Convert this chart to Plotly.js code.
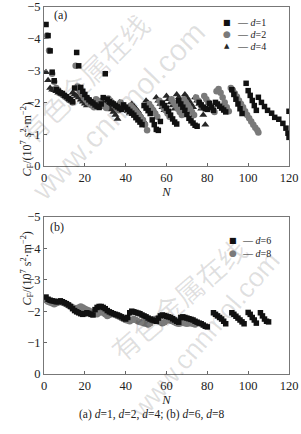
<!DOCTYPE html>
<html><head><meta charset="utf-8">
<script src="https://cdn.plot.ly/plotly-3.0.1.min.js"></script>
<style>html,body{margin:0;padding:0;background:#fff}#c{width:301px;height:434px}</style>
</head><body><div id="c"></div>
<script>
// Panel (a): d=1, d=2, d=4
const d1N = [1,2,3,4,5,6,7,8,9,10,11,12,13,14,15,16,17,18,19,20,21,22,23,24,25,26,27,28,29,30,31,32,33,34,35,36,37,38,39,40,41,42,43,44,45,46,47,48,49,50,51,52,53,54,55,56,57,58,59,60,61,62,63,64,65,66,67,68,69,70,71,72,73,74,75,76,77,78,79,80,81,82,83,84,85,86,87,88,89,
  92,93,94,95,96,97,
  99,100,101,102,103,104,
  105,106.5,108,109.5,111.5,113,115,117,118.5,119.5,120];
const d1C = [-4.45,-4.1,-3.62,-2.95,-2.68,-2.4,-2.35,-2.3,-2.28,-2.22,-2.18,-2.12,-2.08,-2.02,-2.45,-3.57,-3.15,-2.47,-2.35,-2.25,-2.15,-2.08,-2.02,-1.98,-1.92,-1.88,-1.84,-1.95,-2.15,-2.9,-2.1,-2.02,-1.98,-1.95,-1.9,-1.86,-1.82,-1.78,-1.92,-1.85,-1.78,-1.72,-1.66,-1.6,-1.52,-1.45,-1.38,-1.3,-1.9,-1.82,-1.74,-1.65,-1.45,-1.3,-1.15,-1.12,-1.4,-1.98,-1.9,-1.82,-1.72,-1.6,-1.48,-1.38,-1.32,-2.05,-1.95,-1.85,-1.75,-1.62,-1.5,-1.42,-1.35,-1.28,-1.25,-2.0,-1.92,-1.85,-1.8,-1.78,-1.97,-1.85,-1.75,-2.0,-1.95,-1.88,-1.82,-1.76,-1.7,
  -2.4,-2.25,-2.1,-1.95,-1.8,-1.65,
  -2.6,-2.37,-2.22,-2.06,-1.9,-1.75,
  -2.16,-2.0,-1.87,-1.75,-1.66,-1.53,-1.47,-1.34,-1.19,-1.03,-0.9];
const d1xN = [120];
const d1xC = [-1.72];
const d2N = [1.5,2.5,4,5,6,7,8,9,10,11,12,13,14,15.5,16.5,17.5,18.5,19.5,20.5,21.5,22.5,23.5,24.5,25.5,26.5,27.5,28.5,29.5,30.5,31.5,32.5,33.5,34.5,35.5,36.5,37.5,38.5,39.5,40.5,41.5,42.5,43.5,44.5,45.5,46.5,47.5,48.5,49.5,50.5,51.5,52.5,53.5,54.5,55.5,56.5,57.5,58.5,59.5,60.5,61.5,62.5,63.5,64.5,65.5,66.5,67.5,68.5,69.5,70.5,71.5,72.5,73.5,74.5,75.5,76.5,77.5,78.5,79.5,80.5,81.5,82.5,83.5,84.5,85.5,86.5,87.5,88.5,89.5,90.5,91.5,92.5,93.5,94.5,95.5,96.5,97.5,98.5,99.5,100.5,101.5,102.5,103.5,104.5,105];
const d2C = [-4.1,-3.63,-2.9,-2.65,-2.45,-2.38,-2.3,-2.25,-2.2,-2.15,-2.1,-2.05,-2.0,-3.15,-2.5,-2.35,-2.25,-2.15,-2.08,-2.0,-1.95,-1.9,-1.85,-2.1,-2.05,-1.98,-1.92,-1.88,-1.82,-2.12,-2.05,-1.98,-1.9,-1.82,-1.75,-2.0,-1.92,-1.85,-1.78,-1.7,-1.9,-1.82,-1.75,-1.68,-1.6,-1.52,-1.45,-1.3,-1.12,-1.95,-1.85,-1.75,-1.65,-1.55,-2.05,-1.95,-1.85,-1.75,-1.65,-1.55,-2.1,-2.0,-1.9,-1.8,-1.7,-1.6,-2.1,-2.0,-1.9,-1.8,-1.7,-1.6,-2.15,-2.05,-1.95,-1.85,-2.2,-2.1,-2.0,-1.9,-1.8,-1.7,-2.35,-2.42,-2.3,-2.15,-2.0,-1.85,-1.72,-2.45,-2.38,-2.28,-2.18,-2.06,-1.95,-1.85,-1.72,-1.6,-1.5,-1.4,-1.3,-1.2,-1.12,-1.05];
const d4N = [1,2,3,4,5,6,7,8,9,10,11,12,13,14,15,16,17,18,19,20,21,22,23,24,25,26,27,28,29,30,31,32,33,34,35,36,37,38,39,40,41,42,43,44,45,46,47,48,49,50,51,52,53,54,55,56,57,58,59,60,61,62,63,64,65,66,67,68,69,70,71,72,73,74,75,76,77,78,79];
const d4C = [-2.95,-2.7,-2.45,-2.4,-2.38,-2.35,-2.3,-2.28,-2.25,-2.2,-2.15,-2.1,-2.05,-2.3,-2.25,-2.2,-2.15,-2.08,-2.02,-1.96,-1.9,-2.1,-2.05,-2.0,-1.95,-1.9,-1.85,-2.05,-2.0,-1.95,-1.9,-1.85,-1.78,-1.7,-1.6,-1.48,-2.0,-1.95,-1.88,-1.8,-1.72,-1.65,-1.95,-1.88,-1.8,-1.72,-1.62,-1.5,-1.4,-2.05,-1.98,-1.9,-1.82,-1.72,-2.15,-2.05,-1.95,-1.85,-1.75,-2.2,-2.1,-2.0,-1.9,-1.8,-2.25,-2.15,-2.05,-1.95,-2.25,-2.15,-2.05,-1.95,-1.85,-2.15,-2.05,-1.95,-1.8,-1.6,-1.3];
// Panel (b): d=6, d=8
const d6N = [1,2,3,4,5,6,7,8,9,10,11,12,13,14,15,16,17,18,19,20,21,22,23,24,25,26,27,28,29,30,31,32,33,34,35,36,37,38,39,40,41,42,43,44,45,46,47,48,49,50,51,52,53,54,55,56,57,58,59,60,61,62,63,64,65,66,67,68,69,70,71,72,73,74,75,76,77,78,79,80,83,84,85,86,87,88,89,92,93,94,95,96,97,98,100,101,102,103,104,106,107,108,109,110];
const d6C = [-2.45,-2.38,-2.35,-2.33,-2.32,-2.3,-2.3,-2.33,-2.3,-2.27,-2.24,-2.2,-2.15,-2.08,-2.02,-1.98,-1.95,-1.92,-1.9,-1.92,-1.95,-1.93,-1.9,-1.88,-2.05,-2.12,-2.15,-2.15,-2.12,-2.08,-2.02,-1.98,-1.95,-1.92,-1.9,-1.88,-1.85,-1.82,-1.78,-1.75,-1.8,-1.95,-2.0,-1.98,-1.96,-1.94,-1.92,-1.88,-1.85,-1.82,-1.78,-1.75,-1.72,-1.7,-1.68,-1.78,-1.85,-1.88,-1.86,-1.84,-1.82,-1.8,-1.76,-1.72,-1.68,-1.65,-1.8,-1.82,-1.8,-1.78,-1.76,-1.74,-1.72,-1.68,-1.65,-1.62,-1.6,-1.56,-1.52,-1.5,-1.95,-1.9,-1.85,-1.8,-1.75,-1.68,-1.6,-1.95,-1.9,-1.84,-1.78,-1.72,-1.66,-1.6,-1.96,-1.9,-1.8,-1.72,-1.62,-1.95,-1.85,-1.75,-1.68,-1.66];
const d8N = [1,2,3,4,5,6,7,8,9,10,11,12,13,14,15,16,17,18,19,20,21,22,23,24,25,26,27,28,29,30,31,32,33,34,35,36,37,38,39,40,41,42,43,44,45,46,47,48,49,50,51,52,53,54,55,56,57,58,59,60,61,62,63,64,65,66,67,68,69,70,71,72,73,74];
const d8C = [-2.35,-2.3,-2.28,-2.25,-2.22,-2.25,-2.28,-2.3,-2.28,-2.25,-2.22,-2.18,-2.15,-2.12,-2.1,-2.08,-2.12,-2.15,-2.12,-2.08,-2.05,-2.02,-1.98,-1.95,-1.92,-1.9,-1.95,-1.98,-1.95,-1.9,-1.85,-1.88,-1.92,-1.9,-1.88,-1.85,-1.82,-1.78,-1.75,-1.72,-1.7,-1.68,-1.72,-1.75,-1.72,-1.68,-1.66,-1.64,-1.62,-1.6,-1.58,-1.62,-1.7,-1.75,-1.72,-1.68,-1.65,-1.62,-1.65,-1.7,-1.72,-1.7,-1.68,-1.65,-1.62,-1.6,-1.62,-1.65,-1.62,-1.6,-1.62,-1.62,-1.6,-1.58];
const xTicks = [0,20,40,60,80,100,120];
const yTicks = [0,-1,-2,-3,-4,-5];

const serif = 'Liberation Serif, Times New Roman, serif';
const colBlack = '#111111', colGray = '#7a7a7a', colTri = '#262626';
function mk(x, y, name, sym, col, sz, xa, ya) {
  return {x: x, y: y, type: 'scatter', mode: 'markers', name: name, showlegend: false,
    xaxis: xa, yaxis: ya,
    marker: {symbol: sym, color: col, size: sz, line: {width: 0}}};
}
const data = [
  mk(d4N, d4C, 'd=4', 'triangle-up', colTri, 7, 'x', 'y'),
  mk(d2N, d2C, 'd=2', 'circle', colGray, 6.5, 'x', 'y'),
  mk(d1N, d1C, 'd=1', 'square', colBlack, 5.5, 'x', 'y'),
  mk(d1xN, d1xC, 'd=1', 'square', colBlack, 5.5, 'x', 'y'),
  mk(d8N, d8C, 'd=8', 'circle', colGray, 6.5, 'x2', 'y2'),
  mk(d6N, d6C, 'd=6', 'square', colBlack, 5.5, 'x2', 'y2')
];
const axBase = {showgrid: false, zeroline: false, showline: true, mirror: true,
  linecolor: '#777', linewidth: 1, ticks: 'inside', ticklen: 3, tickcolor: '#666',
  tickfont: {family: serif, size: 12.5, color: '#222'}};
const xa = Object.assign({}, axBase, {range: [0, 120], tickvals: xTicks, ticktext: xTicks.map(String),
  title: {text: '<i>N</i>', font: {family: serif, size: 12.5, color: '#222'}, standoff: 2}});
const ya = Object.assign({}, axBase, {range: [0, -5], tickvals: yTicks, ticktext: yTicks.map(v => v === 0 ? '0' : '−' + Math.abs(v))});
const ytitle = '<i>C</i><sub>F</sub>/(10<sup>7</sup> s<sup>2</sup>·m<sup>−2</sup>)';
const tf = {family: serif, size: 12, color: '#222'};
const lf = {family: serif, size: 10, color: '#222'};
const wmCol = 'rgba(0,0,0,0.12)';
function legMark(glyph, col, sz, x, y) {
  return {text: glyph, xref: 'paper', yref: 'paper', x: x, y: y, xanchor: 'center', yanchor: 'middle',
    showarrow: false, font: {family: 'DejaVu Sans', size: sz, color: col}};
}
function legText(txt, x, y) {
  return {text: txt, xref: 'paper', yref: 'paper', x: x, y: y, xanchor: 'left', yanchor: 'middle',
    showarrow: false, font: lf};
}
function wmark(txt, fam, sz, x, y, ang) {
  return {text: txt, xref: 'paper', yref: 'paper', x: x, y: y, xanchor: 'center', yanchor: 'middle',
    textangle: ang, showarrow: false, font: {family: fam, size: sz, color: wmCol}};
}
const layout = {
  width: 301, height: 434, margin: {l: 44, r: 12, t: 7, b: 60},
  paper_bgcolor: '#fff', plot_bgcolor: 'rgba(0,0,0,0)', showlegend: false,
  xaxis: Object.assign({}, xa, {anchor: 'y'}),
  yaxis: Object.assign({}, ya, {domain: [0.5668, 1], anchor: 'x'}),
  xaxis2: Object.assign({}, xa, {anchor: 'y2'}),
  yaxis2: Object.assign({}, ya, {domain: [0, 0.4278], anchor: 'x2'}),
  annotations: [
    wmark('有色金属在线', 'Noto Sans CJK SC', 28, 0.165, 0.806, -45),
    wmark('www.cnnmol.com', 'Liberation Sans', 30, 0.30, 0.716, -46),
    wmark('有色金属在线', 'Noto Sans CJK SC', 28, 0.547, 0.205, -41),
    wmark('www.cnnmol.com', 'Liberation Sans', 27, 0.66, 0.105, -49),
    {text: '(a)', xref: 'paper', yref: 'paper', x: 0.033, y: 0.978, xanchor: 'left', yanchor: 'middle', showarrow: false, font: tf},
    {text: '(b)', xref: 'paper', yref: 'paper', x: 0.016, y: 0.40, xanchor: 'left', yanchor: 'middle', showarrow: false, font: tf},
    {text: ytitle, xref: 'paper', yref: 'paper', x: -0.11, y: 0.744, textangle: -90, showarrow: false, font: tf},
    {text: ytitle, xref: 'paper', yref: 'paper', x: -0.11, y: 0.18, textangle: -90, showarrow: false, font: tf},
    {text: '(a) <i>d</i>=1, <i>d</i>=2, <i>d</i>=4; (b) <i>d</i>=6, <i>d</i>=8', xref: 'paper', yref: 'paper', x: 0.44, y: -0.1335, showarrow: false, font: {family: serif, size: 11.5, color: '#222'}},
    legMark('■', colBlack, 8, 0.747, 0.9591),
    legMark('●', colGray, 9, 0.747, 0.9264),
    legMark('▲', colTri, 7, 0.747, 0.8937),
    legText('— <i>d</i>=1', 0.78, 0.9591),
    legText('— <i>d</i>=2', 0.78, 0.9264),
    legText('— <i>d</i>=4', 0.78, 0.8937),
    legMark('■', colBlack, 8, 0.771, 0.3624),
    legMark('●', colGray, 9, 0.771, 0.3297),
    legText('— <i>d</i>=6', 0.80, 0.3624),
    legText('— <i>d</i>=8', 0.80, 0.3297)
  ]
};
Plotly.newPlot('c', data, layout, {displayModeBar: false, staticPlot: true});
</script></body></html>
